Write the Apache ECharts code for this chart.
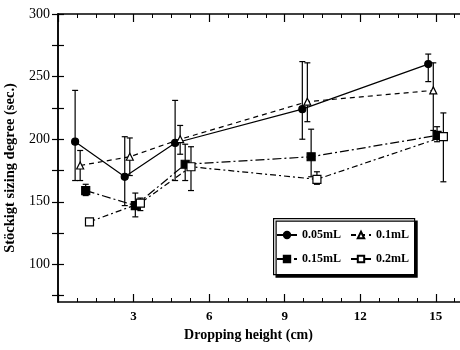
<!DOCTYPE html>
<html>
<head>
<meta charset="utf-8">
<script src="https://cdn.jsdelivr.net/npm/echarts@6/dist/echarts.min.js"></script>
<style>html,body{margin:0;padding:0;background:#fff}#c{width:460px;height:350px}</style>
</head>
<body>
<div id="c"></div>
<script>
var seriesNames = ['0.05mL', '0.1mL', '0.15mL', '0.2mL'];
var x005 = [0.68, 2.65, 4.65, 9.7, 14.7];
var y005 = [198, 170, 197, 224, 260];
var lo005 = [167, 147, 167, 200, 246];
var hi005 = [239, 202, 231, 262, 268];
var x01 = [0.88, 2.85, 4.85, 9.9, 14.9];
var y01 = [179, 186, 200, 230, 239];
var lo01 = [167, 171, 188, 214, 207];
var hi01 = [191, 201, 211, 261, 261];
var x015 = [1.1, 3.07, 5.05, 10.05, 15.05];
var y015 = [159, 147, 180, 186, 203];
var lo015 = [155, 138, 167, 170, 198];
var hi015 = [164, 157, 196, 208, 210];
var x02 = [1.25, 3.27, 5.28, 10.28, 15.3];
var y02 = [134, 149, 178, 168, 202];
var lo02 = [134, 143, 159, 164, 166];
var hi02 = [134, 153, 194, 174, 221];
var yLabelValues = [100, 150, 200, 250, 300];
var yTickValues = [75, 100, 125, 150, 175, 200, 225, 250, 275, 300];

var FONT = 'Liberation Serif';
function pts(xs, ys) { return xs.map(function (x, i) { return [x, ys[i]]; }); }
function errs(xs, lo, hi) { return xs.map(function (x, i) { return [x, lo[i], hi[i]]; }); }

function errSeries(name, data) {
  return {
    type: 'custom', name: name + ' err', data: data, z: 1, silent: true,
    renderItem: function (params, api) {
      var x = api.value(0);
      var a = api.coord([x, api.value(1)]);
      var b = api.coord([x, api.value(2)]);
      var w = 3;
      var st = { stroke: '#000', lineWidth: 1.2 };
      return { type: 'group', children: [
        { type: 'line', shape: { x1: a[0], y1: a[1], x2: b[0], y2: b[1] }, style: st },
        { type: 'line', shape: { x1: a[0] - w, y1: a[1], x2: a[0] + w, y2: a[1] }, style: st },
        { type: 'line', shape: { x1: b[0] - w, y1: b[1], x2: b[0] + w, y2: b[1] }, style: st }
      ]};
    }
  };
}
function lineSeries(name, data, symbol, size, fill, dash) {
  return {
    type: 'line', name: name, data: data, symbol: symbol, symbolSize: size, z: 3,
    showAllSymbol: true,
    lineStyle: { color: '#000', width: 1.2, type: dash },
    itemStyle: { color: fill, borderColor: '#000', borderWidth: 1.2 }
  };
}

var chart = echarts.init(document.getElementById('c'));
var axisLineStyle = { color: '#000', width: 1.5 };
var legendText = { fontFamily: FONT, fontWeight: 'bold', fontSize: 12, color: '#000' };
chart.setOption({
  animation: false,
  backgroundColor: '#fff',
  grid: { left: 58, width: 403, top: 14, bottom: 48, outerBoundsMode: 'none', containLabel: false },
  xAxis: [{
    type: 'value', min: 0, max: 16, interval: 3, position: 'bottom',
    name: 'Dropping height (cm)', nameLocation: 'middle', nameGap: 25,
    nameTextStyle: { fontFamily: FONT, fontWeight: 'bold', fontSize: 14, color: '#000', padding: [0, 22, 0, 0] },
    axisLine: { show: true, lineStyle: axisLineStyle },
    axisTick: { show: true, inside: true, length: 8, lineStyle: { color: '#000', width: 1.2 } },
    minorTick: { show: true, splitNumber: 4, length: 4, lineStyle: { color: '#000', width: 1 } },
    splitLine: { show: false },
    axisLabel: { fontFamily: FONT, fontWeight: 'bold', fontSize: 13, color: '#000', margin: 8,
      formatter: function (v) { return (v === 0 || v > 15) ? '' : String(v); } }
  }, {
    type: 'value', min: 0, max: 16, interval: 3, position: 'top',
    axisLine: { show: true, lineStyle: axisLineStyle },
    axisTick: { show: true, inside: true, length: 8, lineStyle: { color: '#000', width: 1.2 } },
    minorTick: { show: true, splitNumber: 4, length: 4, lineStyle: { color: '#000', width: 1 } },
    splitLine: { show: false }, axisLabel: { show: false }
  }],
  yAxis: [{
    type: 'value', min: 70, max: 300, position: 'left',
    name: 'Stöckigt sizing degree (sec.)', nameLocation: 'middle', nameGap: 39,
    nameTextStyle: { fontFamily: FONT, fontWeight: 'bold', fontSize: 14.5, color: '#000', padding: [0, 20, 0, 0] },
    axisLine: { show: true, lineStyle: axisLineStyle },
    axisTick: { show: true, inside: true, length: 6, customValues: yTickValues, lineStyle: { color: '#000', width: 1.2 } },
    splitLine: { show: false },
    axisLabel: { fontFamily: FONT, fontSize: 14, color: '#000', margin: 8, customValues: yLabelValues }
  }, {
    type: 'value', min: 70, max: 300, position: 'right',
    axisLine: { show: true, lineStyle: axisLineStyle },
    axisTick: { show: true, inside: true, length: 6, customValues: yTickValues, lineStyle: { color: '#000', width: 1.2 } },
    splitLine: { show: false }, axisLabel: { show: false }
  }],
  graphic: [{
    type: 'rect', left: 273, top: 218, z: 50,
    shape: { width: 141, height: 56 },
    style: { fill: '#fff', stroke: '#000', lineWidth: 1.2, shadowColor: '#000', shadowOffsetX: 2.5, shadowOffsetY: 2.5, shadowBlur: 0 }
  }],
  legend: [{
    data: [seriesNames[0], seriesNames[1]], left: 276, top: 229, z: 60, padding: 0,
    itemWidth: 20, itemHeight: 8, itemGap: 9, textStyle: legendText, selectedMode: false
  }, {
    data: [seriesNames[2], seriesNames[3]], left: 276, top: 253, z: 60, padding: 0,
    itemWidth: 20, itemHeight: 8, itemGap: 9, textStyle: legendText, selectedMode: false
  }],
  series: [
    errSeries(seriesNames[0], errs(x005, lo005, hi005)),
    errSeries(seriesNames[1], errs(x01, lo01, hi01)),
    errSeries(seriesNames[2], errs(x015, lo015, hi015)),
    errSeries(seriesNames[3], errs(x02, lo02, hi02)),
    lineSeries(seriesNames[0], pts(x005, y005), 'circle', 7, '#000', 'solid'),
    lineSeries(seriesNames[1], pts(x01, y01), 'triangle', 7, '#fff', [5, 4]),
    lineSeries(seriesNames[2], pts(x015, y015), 'rect', 8, '#000', [9, 3, 2, 3]),
    lineSeries(seriesNames[3], pts(x02, y02), 'rect', 8, '#fff', [6, 3, 2, 3])
  ]
});
</script>
</body>
</html>
